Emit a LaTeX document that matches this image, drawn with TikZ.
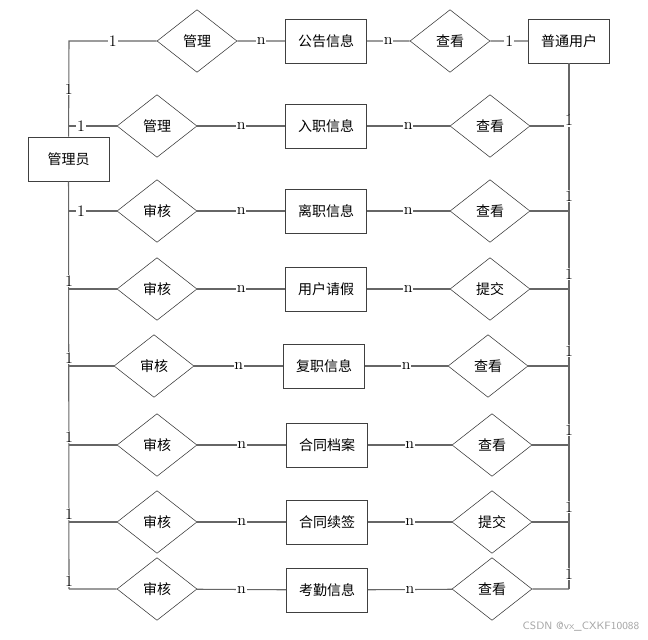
\documentclass[tikz,border=0pt]{standalone}
\usepackage{fontspec}
\newfontfamily\cjk{Noto Sans CJK SC}
\usetikzlibrary{shapes.geometric}
\tikzset{
	entity/.style={draw=black!75, line width=0.6pt, minimum width=60.75pt, minimum height=33pt, inner sep=0pt, font=\cjk\fontsize{10.5}{12}\selectfont},
	relation/.style={draw=black!80, line width=0.4pt, diamond, aspect=1.27, minimum width=60pt, minimum height=47pt, inner sep=0pt, font=\cjk\fontsize{10.5}{12}\selectfont},
	link/.style={draw=black!60, line width=0.8pt},
	card/.style={fill=white, inner sep=0.6pt, font=\fontsize{12}{13}\selectfont}
}

\begin{document}
\begin{tikzpicture}[x=0.75pt, y=-0.75pt]
		%%%%% START %%%%%
		\useasboundingbox (0,0) rectangle (648,639);
		
		\node[entity] (admin) at (68.5,159) {管理员};
		\node[entity] (user) at (569,41) {普通用户};
		
		\node[entity] (notice) at (326,41) {公告信息};
		\node[entity] (entry) at (326,126) {入职信息};
		\node[entity] (quit) at (326,211) {离职信息};
		\node[entity] (vacation) at (326,289) {用户请假};
		\node[entity] (rejoin) at (324,366) {复职信息};
		\node[entity] (contract) at (327,445) {合同档案};
		\node[entity] (renew) at (327,522) {合同续签};
		\node[entity] (attend) at (327,590) {考勤信息};
		
		\node[relation] (ma1) at (197,41) {管理};
		\node[relation] (ma2) at (157,126) {管理};
		\node[relation] (ma3) at (157,211) {审核};
		\node[relation] (ma4) at (157,289) {审核};
		\node[relation] (ma5) at (154,366) {审核};
		\node[relation] (ma6) at (157,445) {审核};
		\node[relation] (ma7) at (157,522) {审核};
		\node[relation] (ma8) at (157,589) {审核};
		
		\node[relation] (us1) at (450,41) {查看};
		\node[relation] (us2) at (490,126) {查看};
		\node[relation] (us3) at (490,211) {查看};
		\node[relation] (us4) at (490,289) {提交};
		\node[relation] (us5) at (488,366) {查看};
		\node[relation] (us6) at (492,445) {查看};
		\node[relation] (us7) at (492,522) {提交};
		\node[relation] (us8) at (492,589) {查看};
		
		\coordinate (c1) at (69,41);
		\coordinate (b2) at (69,126);
		\coordinate (b3) at (69,211);
		\coordinate (b4) at (69,289);
		\coordinate (b5) at (69,366);
		\coordinate (b6) at (69,445);
		\coordinate (b7) at (69,522);
		\coordinate (b8) at (69,589);
		
		\coordinate (u2) at (569,126);
		\coordinate (u3) at (569,211);
		\coordinate (u4) at (569,289);
		\coordinate (u5) at (569,366);
		\coordinate (u6) at (569,445);
		\coordinate (u7) at (569,522);
		\coordinate (u8) at (569,589);
		
		% buses
		\draw[link] (admin) -- (b8);
		\draw[link] (user) -- (u8);
		
		\draw[link] (admin) -- node[card]{1} (c1) -- node[card]{1} (ma1) -- node[card]{n} (notice) -- node[card]{n} (us1) -- node[card]{1} (user);
		
		\draw[link] (b2) -- node[card, pos=0.25]{1} (ma2) -- node[card]{n} (entry) -- node[card]{n} (us2) -- (u2) node[card, at end, yshift=4pt]{1};
		\draw[link] (b3) -- node[card, pos=0.25]{1} (ma3) -- node[card]{n} (quit) -- node[card]{n} (us3) -- (u3) node[card, at end, yshift=11pt]{1};
		\draw[link] (b4) node[card, yshift=6pt]{1} -- (ma4) -- node[card]{n} (vacation) -- node[card]{n} (us4) -- (u4) node[card, at end, yshift=11pt]{1};
		\draw[link] (b5) node[card, yshift=6pt]{1} -- (ma5) -- node[card]{n} (rejoin) -- node[card]{n} (us5) -- (u5) node[card, at end, yshift=11pt]{1};
		\draw[link] (b6) node[card, yshift=6pt]{1} -- (ma6) -- node[card]{n} (contract) -- node[card]{n} (us6) -- (u6) node[card, at end, yshift=11pt]{1};
		\draw[link] (b7) node[card, yshift=6pt]{1} -- (ma7) -- node[card]{n} (renew) -- node[card]{n} (us7) -- (u7) node[card, at end, yshift=11pt]{1};
		\draw[link] (b8) node[card, yshift=6pt]{1} -- (ma8) -- node[card]{n} (attend) -- node[card]{n} (us8) -- (u8) node[card, at end, yshift=11pt]{1};
		
		\node[text=black!35, font=\sffamily\fontsize{8}{9}\selectfont] (mark) at (581,627) {CSDN @vx\_CXKF10088};
		
		%%%%% END %%%%%
	\end{tikzpicture}
\end{document}
